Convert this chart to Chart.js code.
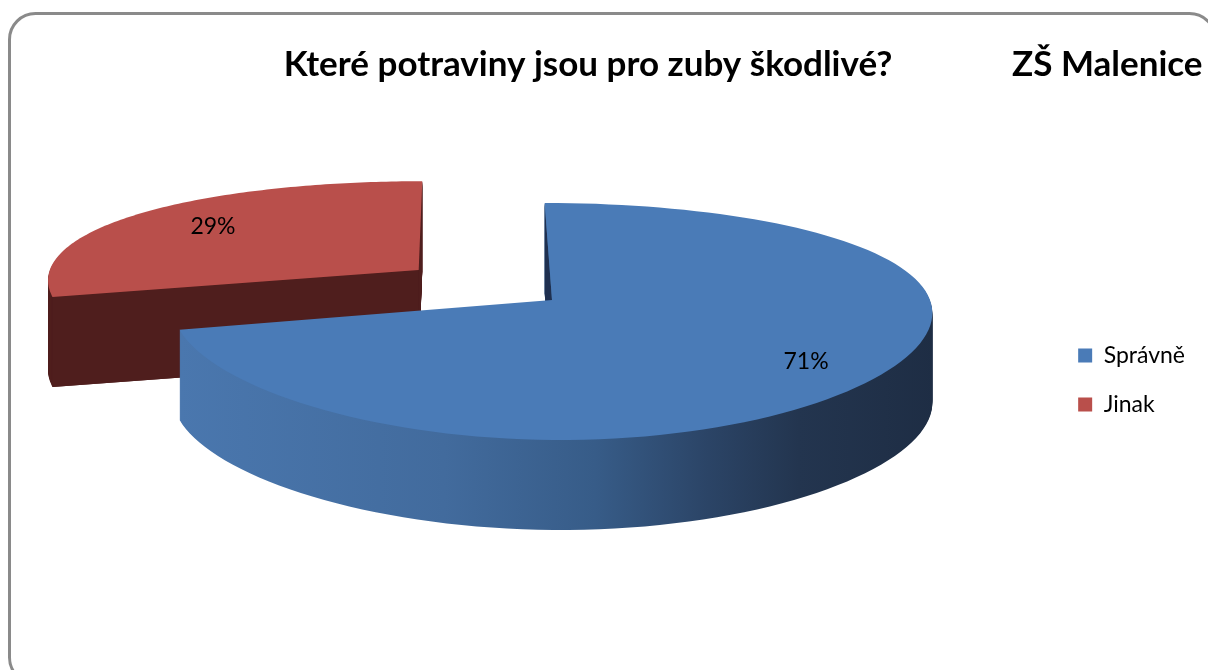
<!DOCTYPE html>
<html>
<head>
<meta charset="utf-8">
<script src="https://cdn.jsdelivr.net/npm/chart.js@4.4.0/dist/chart.umd.min.js"></script>
<style>
  html, body { margin: 0; padding: 0; background: #fff; }
  canvas { display: block; }
</style>
</head>
<body>
<canvas id="pieChart" width="1208" height="670"></canvas>
<script>
const labels = ['Správně', 'Jinak'];
const values = [71, 29];
const chartTitle = 'Které potraviny jsou pro zuby škodlivé?';
const schoolName = 'ZŠ Malenice';

const topColors = ['#4a7bb7', '#b94f4b'];
const faceColors = ['#1f3050', '#4f1e1d'];
const explode = [0, 0.45];
const labelRadius = [0.8, 0.74];

// tilted disc with a bit of perspective, plus the height of the pie
const view = { cx: 552, cy: 300, rx: 378, ry: 114.6, skew: 8, px: 0.09, py: 0.181, depth: 90 };

function project(u, v) {
  const x = view.cx + (view.rx * u + view.skew * v) / (1 - view.px * v);
  const y = view.cy + view.ry * v / (1 - view.py * v);
  return [x, y];
}

function quadArea(pts) {
  let s = 0;
  for (let i = 0; i < pts.length; i++) {
    const a = pts[i], b = pts[(i + 1) % pts.length];
    s += a[0] * b[1] - b[0] * a[1];
  }
  return s;
}

function fillPoly(ctx, pts, color) {
  ctx.beginPath();
  ctx.moveTo(pts[0][0], pts[0][1]);
  for (let i = 1; i < pts.length; i++) ctx.lineTo(pts[i][0], pts[i][1]);
  ctx.closePath();
  ctx.fillStyle = color;
  ctx.fill();
}

// draws the pie slices as 3D wedges from the arc elements Chart.js laid out
const pie3d = {
  id: 'pie3d',
  beforeDatasetsDraw(chart) {
    const ctx = chart.ctx;
    const meta = chart.getDatasetMeta(0);
    const d = view.depth;

    const blueWall = ctx.createLinearGradient(180, 0, 935, 0);
    blueWall.addColorStop(0, '#4a77ae');
    blueWall.addColorStop(0.35, '#426b9d');
    blueWall.addColorStop(0.55, '#375c88');
    blueWall.addColorStop(0.7, '#2b4466');
    blueWall.addColorStop(0.82, '#23354f');
    blueWall.addColorStop(1, '#1e2d44');
    const walls = [blueWall, '#4f1e1d'];

    const total = values.reduce((a, b) => a + b, 0);
    const order = meta.data.map((_, i) => i).reverse();
    const labelSpots = [];

    order.forEach(i => {
      const arc = meta.data[i];
      const { startAngle: a0, endAngle: a1 } = arc.getProps(['startAngle', 'endAngle'], true);
      const mid = (a0 + a1) / 2;
      const ou = Math.cos(mid) * explode[i];
      const ov = Math.sin(mid) * explode[i];
      const n = 120;
      const center = project(ou, ov);
      const rim = [];
      for (let k = 0; k <= n; k++) {
        const a = a0 + (a1 - a0) * k / n;
        rim.push(project(ou + Math.cos(a), ov + Math.sin(a)));
      }
      const top = new Path2D();
      top.moveTo(center[0], center[1]);
      rim.forEach(p => top.lineTo(p[0], p[1]));
      top.closePath();

      // side wall: the top outline pushed down layer by layer
      ctx.save();
      ctx.fillStyle = walls[i];
      for (let s = d; s > 0; s--) {
        ctx.save();
        ctx.translate(0, s);
        ctx.fill(top);
        ctx.restore();
      }
      ctx.restore();

      // cut faces along the two radii, only when they face us
      const down = p => [p[0], p[1] + d];
      const r0 = rim[0], r1 = rim[n];
      const f0 = [center, r0, down(r0), down(center)];
      const f1 = [center, r1, down(r1), down(center)];
      if (quadArea(f0) < 0) fillPoly(ctx, f0, faceColors[i]);
      if (quadArea(f1) > 0) fillPoly(ctx, f1, faceColors[i]);

      ctx.fillStyle = arc.options.backgroundColor;
      ctx.fill(top);

      const s = explode[i] + labelRadius[i];
      const pos = project(Math.cos(mid) * s, Math.sin(mid) * s);
      labelSpots[i] = { pos, text: Math.round(values[i] / total * 100) + '%' };
    });

    ctx.save();
    ctx.font = '23px Lato';
    ctx.fillStyle = '#000';
    ctx.textAlign = 'center';
    ctx.textBaseline = 'middle';
    labelSpots.forEach(l => ctx.fillText(l.text, l.pos[0], l.pos[1]));
    ctx.restore();
    return false;
  }
};

// rounded chart frame and the two heading texts
const frame = {
  id: 'frame',
  beforeDraw(chart) {
    const ctx = chart.ctx;
    ctx.save();
    ctx.fillStyle = '#fff';
    ctx.fillRect(0, 0, chart.width, chart.height);
    ctx.strokeStyle = '#8a8a8a';
    ctx.lineWidth = 3;
    ctx.beginPath();
    ctx.roundRect(9.5, 13.5, 1206, 670, 26);
    ctx.stroke();
    ctx.restore();
  },
  afterDraw(chart) {
    const ctx = chart.ctx;
    ctx.save();
    ctx.font = 'bold 35px Lato';
    ctx.fillStyle = '#000';
    ctx.textBaseline = 'middle';
    ctx.textAlign = 'center';
    ctx.fillText(chartTitle, 588, 65);
    ctx.textAlign = 'left';
    ctx.fillText(schoolName, 1012, 65);
    ctx.restore();
  }
};

new Chart(document.getElementById('pieChart'), {
  type: 'pie',
  data: {
    labels: labels,
    datasets: [{
      data: values,
      backgroundColor: topColors,
      borderWidth: 0
    }]
  },
  options: {
    responsive: false,
    animation: false,
    devicePixelRatio: 1,
    layout: { padding: { top: 90, right: 13 } },
    plugins: {
      legend: {
        position: 'right',
        labels: {
          boxWidth: 14,
          boxHeight: 14,
          padding: 26,
          color: '#000',
          font: { family: 'Lato', size: 23 }
        }
      },
      tooltip: { enabled: false }
    }
  },
  plugins: [frame, pie3d]
});
</script>
</body>
</html>
